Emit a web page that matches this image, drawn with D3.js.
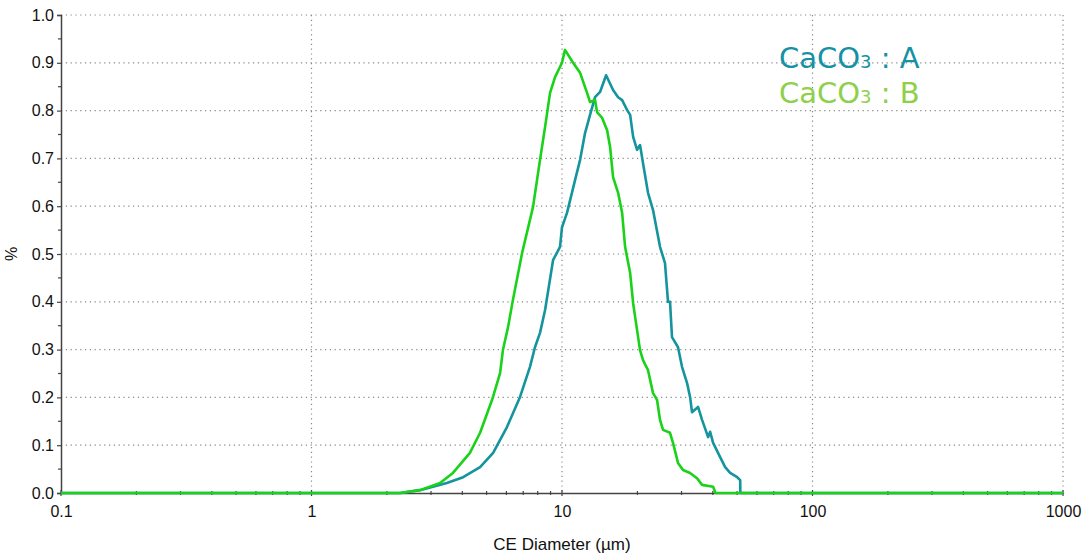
<!DOCTYPE html>
<html><head><meta charset="utf-8">
<script src="https://cdn.jsdelivr.net/npm/d3@7"></script>
<style>body{margin:0;background:#fff}svg{display:block}</style>
</head><body><svg id="c" width="1087" height="557"></svg>
<script>
const xTicks = [0.1, 1, 10, 100, 1000];
const yTicks = [0, 0.1, 0.2, 0.3, 0.4, 0.5, 0.6, 0.7, 0.8, 0.9, 1.0];
const seriesNames = ["CaCO₃ : A", "CaCO₃ : B"];
const diamA = [0.1,2.26,2.71,3.47,4.03,4.71,5.31,6.03,6.80,7.45,7.80,8.17,8.56,9.21,9.82,10.0,10.47,11.28,11.81,12.36,12.94,13.55,14.19,15.0,15.99,16.75,17.38,18.20,18.71,19.23,19.94,20.49,21.06,22.05,23.09,24.62,25.77,26.5,26.99,27.49,29.05,30.14,31.57,32.45,33.05,34.92,36.24,38.31,39.03,40.11,42.78,44.80,46.91,50.04,51.44,51.5,52,1000];
const valA  = [0,0,0.006,0.021,0.033,0.054,0.084,0.138,0.201,0.264,0.305,0.335,0.383,0.487,0.515,0.556,0.586,0.655,0.697,0.753,0.791,0.828,0.839,0.874,0.843,0.828,0.822,0.801,0.791,0.745,0.718,0.728,0.690,0.628,0.592,0.515,0.481,0.40,0.40,0.326,0.305,0.264,0.230,0.201,0.169,0.180,0.153,0.117,0.128,0.105,0.075,0.054,0.042,0.033,0.027,0.002,0,0];
const diamB = [0.1,2.26,2.71,3.26,3.67,4.29,4.71,5.26,5.66,5.81,6.09,6.37,6.93,7.66,8.17,8.56,8.96,9.38,10.0,10.28,11.07,11.81,12.59,12.94,13.55,13.80,14.45,15.14,15.56,15.99,16.75,17.38,17.86,18.71,19.23,19.59,20.49,21.06,22.05,23.09,23.95,24.62,25.31,26.99,27.74,29.05,30.42,32.45,34.60,36.24,40.11,40.85,41,1000];
const valB  = [0,0,0.006,0.021,0.042,0.084,0.126,0.195,0.251,0.299,0.347,0.404,0.502,0.598,0.697,0.766,0.837,0.870,0.900,0.927,0.900,0.879,0.837,0.818,0.822,0.797,0.785,0.759,0.724,0.661,0.628,0.586,0.515,0.460,0.397,0.368,0.299,0.278,0.257,0.209,0.195,0.153,0.132,0.126,0.105,0.063,0.048,0.042,0.031,0.017,0.013,0.002,0,0];

const svg = d3.select("#c");
const L = 61, R = 1063, T = 15, B = 493;
const x = d3.scaleLog().domain([0.1, 1000]).range([L, R]);
const y = d3.scaleLinear().domain([0, 1]).range([B, T]);
const axisColor = "#444";
const font = "Liberation Sans, Arial, sans-serif";

// grid
const g = svg.append("g");
g.selectAll("line.h").data(yTicks.filter(v => v > 0)).join("line")
  .attr("x1", L).attr("x2", R).attr("y1", d => y(d)).attr("y2", d => y(d))
  .attr("stroke", "#888").attr("stroke-width", 1.2).attr("stroke-dasharray", "1.2,3.6");
g.selectAll("line.v").data(xTicks.filter(v => v > 0.1)).join("line")
  .attr("x1", d => x(d)).attr("x2", d => x(d)).attr("y1", T).attr("y2", B)
  .attr("stroke", "#888").attr("stroke-width", 1.2).attr("stroke-dasharray", "1.2,3.6");

// y axis
const yAxis = d3.axisLeft(y).tickValues(yTicks).tickFormat(d3.format(".1f")).tickSize(4).tickPadding(3);
const ya = svg.append("g").attr("transform", `translate(${L},0)`).call(yAxis);
ya.select(".domain").attr("stroke", axisColor).attr("stroke-width", 1.5);
ya.selectAll(".tick line").attr("stroke", axisColor).attr("stroke-width", 1.2);
ya.selectAll("text").attr("font-family", font).attr("font-size", 16).attr("fill", "#111");
const yMinor = d3.range(0.05, 1, 0.1);
svg.append("g").selectAll("line").data(yMinor).join("line")
  .attr("x1", L - 3).attr("x2", L).attr("y1", d => y(d)).attr("y2", d => y(d))
  .attr("stroke", axisColor).attr("stroke-width", 1.2);

// x axis
const xAxis = d3.axisBottom(x).tickValues(xTicks).tickFormat(d => String(d)).tickSize(0).tickPadding(13);
const xa = svg.append("g").attr("transform", `translate(0,${B})`).call(xAxis);
xa.select(".domain").attr("stroke", axisColor).attr("stroke-width", 1.5);
xa.selectAll("text").attr("font-family", font).attr("font-size", 16).attr("fill", "#111");
const xMinor = [];
[0.1, 1, 10, 100].forEach(dec => { for (let k = 2; k <= 9; k++) xMinor.push(dec * k); });
svg.append("g").selectAll("line").data(xMinor).join("line")
  .attr("x1", d => x(d)).attr("x2", d => x(d)).attr("y1", B - 2).attr("y2", B + 2)
  .attr("stroke", axisColor).attr("stroke-width", 1.2);
svg.append("g").selectAll("line").data(xTicks).join("line")
  .attr("x1", d => x(d)).attr("x2", d => x(d)).attr("y1", B - 3).attr("y2", B + 3)
  .attr("stroke", axisColor).attr("stroke-width", 1.2);

// labels
svg.append("text").attr("x", (L + R) / 2).attr("y", 550).attr("text-anchor", "middle")
  .attr("font-family", font).attr("font-size", 17).attr("fill", "#111")
  .text("CE Diameter (µm)");
svg.append("text").attr("transform", `translate(17,${(T + B) / 2}) rotate(-90)`).attr("text-anchor", "middle")
  .attr("font-family", font).attr("font-size", 16).attr("fill", "#111")
  .text("%");

// lines
const line = d3.line().x(d => x(d[0])).y(d => y(d[1]));
const dataA = diamA.map((d, i) => [d, valA[i]]);
const dataB = diamB.map((d, i) => [d, valB[i]]);
svg.append("path").datum(dataA).attr("d", line).attr("fill", "none")
  .attr("stroke", "#14949c").attr("stroke-width", 2.6).attr("stroke-linejoin", "round");
svg.append("path").datum(dataB).attr("d", line).attr("fill", "none")
  .attr("stroke", "#19d219").attr("stroke-width", 2.6).attr("stroke-linejoin", "round");

// legend
const legColors = ["#1591a5", "#8ed04a"];
seriesNames.forEach((name, i) => {
  const t = svg.append("text").attr("x", 779).attr("y", 68 + i * 35)
    .attr("font-family", "DejaVu Sans, sans-serif").attr("font-size", 29).attr("fill", legColors[i]);
  const parts = name.split("₃");
  t.append("tspan").text(parts[0]);
  t.append("tspan").attr("font-size", 18).text("3");
  t.append("tspan").text(parts[1].replace(/ /g, "\u00a0"));
});
</script></body></html>
